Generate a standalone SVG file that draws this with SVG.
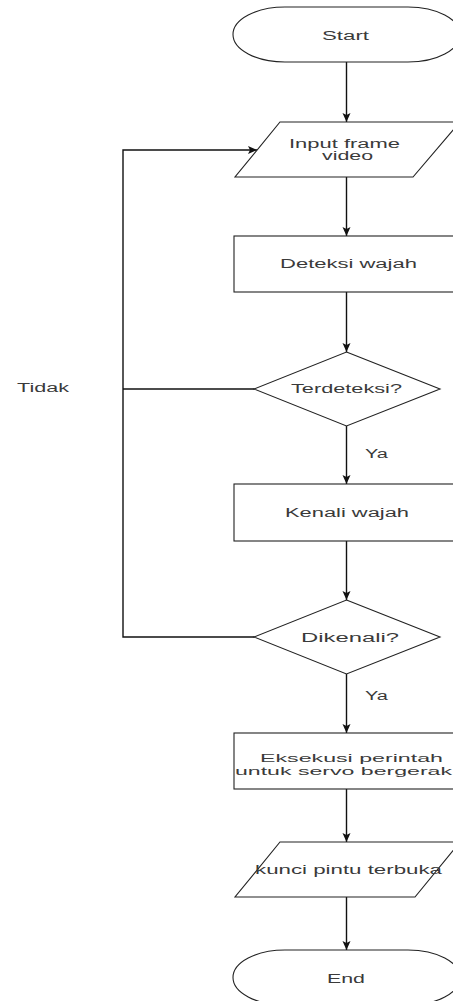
<svg xmlns="http://www.w3.org/2000/svg" width="453" height="1001" viewBox="0 0 453 1001">
<style>
.shape{fill:#ffffff;stroke:#222222;stroke-width:1.1}
.edge{fill:none;stroke:#111111;stroke-width:1.4}
text{font-family:"Liberation Sans",Arial,sans-serif;font-size:12.5px;fill:#3a3a3a}
.small{font-size:11px}
</style>
<defs>
<marker id="arr" markerUnits="userSpaceOnUse" markerWidth="10" markerHeight="10" viewBox="0 0 10 10" refX="9" refY="5" orient="auto">
<path d="M0,1 L9,5 L0,9 L2,5 Z" fill="#111111"/>
</marker>
</defs>
<rect width="453" height="1001" fill="#ffffff"/>
<g id="connectors">
<path class="edge" d="M346.5,62 V122" marker-end="url(#arr)"/>
<path class="edge" d="M346.5,177 V236" marker-end="url(#arr)"/>
<path class="edge" d="M346.5,292 V352" marker-end="url(#arr)"/>
<path class="edge" d="M346.5,426 V484" marker-end="url(#arr)"/>
<path class="edge" d="M346.5,541 V600" marker-end="url(#arr)"/>
<path class="edge" d="M346.5,674 V733" marker-end="url(#arr)"/>
<path class="edge" d="M346.5,789 V842" marker-end="url(#arr)"/>
<path class="edge" d="M346.5,897 V950" marker-end="url(#arr)"/>
<path class="edge" d="M254,389 H123"/>
<path class="edge" d="M254,637 H123 V150 H257" marker-end="url(#arr)"/>
<text x="365" y="458" textLength="23" lengthAdjust="spacingAndGlyphs">Ya</text>
<text x="365" y="700" textLength="23" lengthAdjust="spacingAndGlyphs">Ya</text>
<text x="17" y="392" textLength="52" lengthAdjust="spacingAndGlyphs">Tidak</text>
</g>
<g id="start">
<rect class="shape" x="233" y="7" width="227" height="55" rx="52" ry="27.5"/>
<text x="322" y="40" textLength="47" lengthAdjust="spacingAndGlyphs">Start</text>
</g>
<g id="input">
<polygon class="shape" points="280,122 460,122 413,177 235,177"/>
<text x="289" y="148" textLength="111" lengthAdjust="spacingAndGlyphs">Input frame</text>
<text x="322" y="160" textLength="51" lengthAdjust="spacingAndGlyphs">video</text>
</g>
<g id="deteksi">
<rect class="shape" x="234" y="236" width="226" height="56"/>
<text x="280" y="268" textLength="137" lengthAdjust="spacingAndGlyphs">Deteksi wajah</text>
</g>
<g id="terdeteksi">
<polygon class="shape" points="346.5,352 440,389 346.5,426 254,389"/>
<text x="291" y="393" textLength="111" lengthAdjust="spacingAndGlyphs">Terdeteksi?</text>
</g>
<g id="kenali">
<rect class="shape" x="234" y="484" width="226" height="57"/>
<text x="285" y="517" textLength="124" lengthAdjust="spacingAndGlyphs">Kenali wajah</text>
</g>
<g id="dikenali">
<polygon class="shape" points="346.5,600 440,637 346.5,674 254,637"/>
<text x="301" y="642" textLength="98" lengthAdjust="spacingAndGlyphs">Dikenali?</text>
</g>
<g id="eksekusi">
<rect class="shape" x="234" y="733" width="226" height="56"/>
<text class="small" x="260" y="761.5" textLength="183" lengthAdjust="spacingAndGlyphs">Eksekusi perintah</text>
<text class="small" x="235" y="774.5" textLength="217" lengthAdjust="spacingAndGlyphs">untuk servo bergerak</text>
</g>
<g id="kunci">
<polygon class="shape" points="280,842 460,842 415,897 235,897"/>
<text x="255" y="874" textLength="187" lengthAdjust="spacingAndGlyphs">kunci pintu terbuka</text>
</g>
<g id="end">
<rect class="shape" x="233" y="950" width="227" height="55" rx="52" ry="27.5"/>
<text x="327" y="983" textLength="38" lengthAdjust="spacingAndGlyphs">End</text>
</g>
</svg>
